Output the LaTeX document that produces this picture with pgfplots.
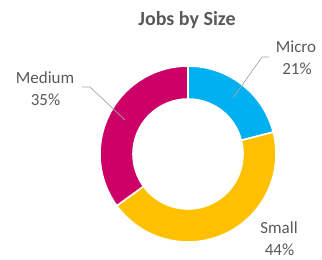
\documentclass[border=0pt]{standalone}
\usepackage{pgfplots}
\usepackage{pgfplotstable}
\pgfplotsset{compat=1.18}
\usepackage{fontspec}
\setmainfont{Carlito}
\definecolor{cMicro}{HTML}{00B0F0}
\definecolor{cSmall}{HTML}{FFC000}
\definecolor{cMedium}{HTML}{CC0066}
\definecolor{txt}{HTML}{595959}
\definecolor{lead}{HTML}{A6A6A6}

\pgfplotstableread{
label value
Micro 21
Small 44
Medium 35
}\sizedata

\pgfplotstablegetelem{0}{value}\of\sizedata \let\vA\pgfplotsretval
\pgfplotstablegetelem{1}{value}\of\sizedata \let\vB\pgfplotsretval
\pgfplotstablegetelem{2}{value}\of\sizedata \let\vC\pgfplotsretval
\pgfmathsetmacro\total{\vA+\vB+\vC}
\pgfmathsetmacro\aA{90}
\pgfmathsetmacro\aB{\aA-360*\vA/\total}
\pgfmathsetmacro\aC{\aB-360*\vB/\total}
\pgfmathsetmacro\aD{\aC-360*\vC/\total}

\newcommand\sector[3]{%
  \filldraw[fill=#1, draw=white, line width=1.6bp]
    ([shift={(#2:88bp)}]axis cs:188,106) arc[start angle=#2, end angle=#3, radius=88bp]
    -- ([shift={(#3:55bp)}]axis cs:188,106) arc[start angle=#3, end angle=#2, radius=55bp]
    -- cycle;}

\begin{document}
\begin{tikzpicture}
\begin{axis}[x=1bp, y=1bp, xmin=0, xmax=322, ymin=0, ymax=260,
  hide axis, scale only axis, clip=false]
\path (axis cs:0,0) rectangle (axis cs:322,260);
\sector{cMicro}{\aA}{\aB}
\sector{cSmall}{\aB}{\aC}
\sector{cMedium}{\aC}{\aD}
\addplot[lead, line width=0.7bp, no markers] coordinates {(233,162) (262,203) (269,203)};
\addplot[lead, line width=0.7bp, no markers] coordinates {(125,140) (90,173) (82,173)};
\node[anchor=base, font=\fontsize{20bp}{24bp}\selectfont\bfseries, text=txt] at (axis cs:187,235) {Jobs by Size};
\node[anchor=base, font=\fontsize{17bp}{20bp}\selectfont, text=txt] at (axis cs:296,208) {Micro};
\node[anchor=base, font=\fontsize{17bp}{20bp}\selectfont, text=txt] at (axis cs:297,185.5) {21\%};
\node[anchor=base, font=\fontsize{17bp}{20bp}\selectfont, text=txt] at (axis cs:45,177) {Medium};
\node[anchor=base, font=\fontsize{17bp}{20bp}\selectfont, text=txt] at (axis cs:45.5,155) {35\%};
\node[anchor=base, font=\fontsize{17bp}{20bp}\selectfont, text=txt] at (axis cs:279,27) {Small};
\node[anchor=base, font=\fontsize{17bp}{20bp}\selectfont, text=txt] at (axis cs:279.5,5) {44\%};
\end{axis}
\end{tikzpicture}
\end{document}
